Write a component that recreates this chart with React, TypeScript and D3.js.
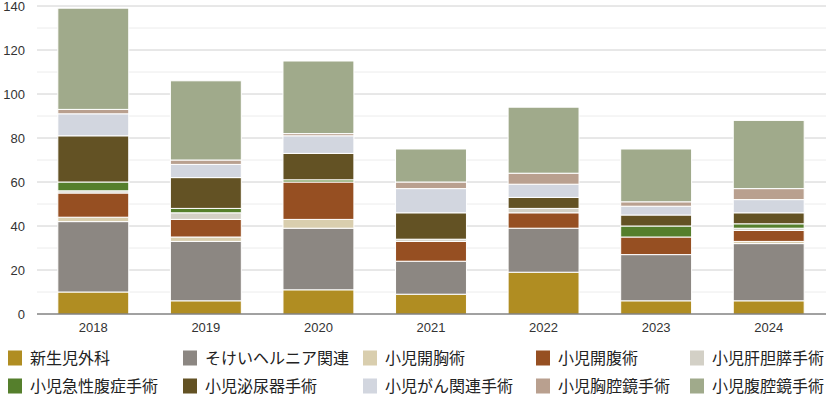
import React from 'react';
import * as d3 from 'd3';

const years = ['2018', '2019', '2020', '2021', '2022', '2023', '2024'];

const seriesNames = [
  '新生児外科',
  'そけいヘルニア関連',
  '小児開胸術',
  '小児開腹術',
  '小児肝胆膵手術',
  '小児急性腹症手術',
  '小児泌尿器手術',
  '小児がん関連手術',
  '小児胸腔鏡手術',
  '小児腹腔鏡手術',
];

const seriesColors = [
  '#b08d22',
  '#8c8782',
  '#d9ceae',
  '#964f22',
  '#d3d0c6',
  '#557f2c',
  '#635224',
  '#d2d6df',
  '#b9a08f',
  '#a0aa8b',
];

// one array per series, in year order
const neonatal = [10, 6, 11, 9, 19, 6, 6];
const hernia = [32, 27, 28, 15, 20, 21, 26];
const thoracotomy = [2, 2, 4, 0, 0, 0, 1];
const laparotomy = [11, 8, 17, 9, 7, 8, 5];
const hepatobiliary = [1, 3, 0, 1, 2, 0, 1];
const acuteAbdomen = [4, 2, 1, 0, 0, 5, 2];
const urology = [21, 14, 12, 12, 5, 5, 5];
const oncology = [10, 6, 8, 11, 6, 4, 6];
const thoracoscopy = [2, 2, 1, 3, 5, 2, 5];
const laparoscopy = [46, 36, 33, 15, 30, 24, 31];

const seriesValues = [
  neonatal, hernia, thoracotomy, laparotomy, hepatobiliary,
  acuteAbdomen, urology, oncology, thoracoscopy, laparoscopy,
];

const yTicks = [0, 20, 40, 60, 80, 100, 120, 140];

const width = 826;
const height = 396;
const margin = { top: 6, right: 1, bottom: 82, left: 37 };
const legendCols = [8, 183, 363, 536, 690];
const legendRows = [358, 386];

const jpFont = '"Liberation Sans", "Noto Sans CJK JP", Arial, sans-serif';

export default function App() {
  const x = d3.scaleBand()
    .domain(years)
    .range([margin.left, width - margin.right])
    .paddingInner(0.37)
    .paddingOuter(0.185);

  const y = d3.scaleLinear()
    .domain([0, 140])
    .range([height - margin.bottom, margin.top]);

  const table = years.map((yr, i) => {
    const row: any = { year: yr };
    seriesNames.forEach((s, k) => { row[s] = seriesValues[k][i]; });
    return row;
  });

  const stacked = d3.stack().keys(seriesNames)(table);
  const minor = d3.range(10, 141, 20);

  return (
    <svg width={width} height={height} style={{ position: 'absolute', left: 0, top: 0, fontFamily: jpFont }}>
      {minor.map((t) => (
        <line key={'m' + t} x1={margin.left} x2={width} y1={y(t)} y2={y(t)} stroke="#ececec" strokeWidth={1} />
      ))}
      {yTicks.filter((t) => t > 0).map((t) => (
        <line key={'g' + t} x1={margin.left} x2={width} y1={y(t)} y2={y(t)} stroke="#d0d0d0" strokeWidth={1} />
      ))}
      {yTicks.map((t) => (
        <text key={'t' + t} x={25} y={y(t)} dy="0.35em" textAnchor="end" fontSize={13} fill="#333">{t}</text>
      ))}
      {stacked.map((layer, k) => (
        <g key={layer.key} fill={seriesColors[k]}>
          {layer.map((d, i) => (
            d[1] - d[0] > 0 ? (
              <rect
                key={i}
                x={x(years[i])}
                width={x.bandwidth()}
                y={y(d[1])}
                height={y(d[0]) - y(d[1])}
                stroke="#fff"
                strokeWidth={1}
              />
            ) : null
          ))}
        </g>
      ))}
      <line x1={margin.left} x2={width} y1={y(0)} y2={y(0)} stroke="#444" strokeWidth={1} />
      {years.map((yr) => (
        <text key={yr} x={(x(yr) as number) + x.bandwidth() / 2} y={y(0) + 18} textAnchor="middle" fontSize={13} fill="#333">{yr}</text>
      ))}
      {seriesNames.map((s, k) => {
        const cx = legendCols[k % 5];
        const cy = legendRows[Math.floor(k / 5)];
        return (
          <g key={s} transform={`translate(${cx},${cy})`}>
            <rect x={0} y={-7.5} width={14} height={15} fill={seriesColors[k]} />
            <text x={22} y={0} dy="0.35em" fontSize={16} fill="#222">{s}</text>
          </g>
        );
      })}
    </svg>
  );
}
